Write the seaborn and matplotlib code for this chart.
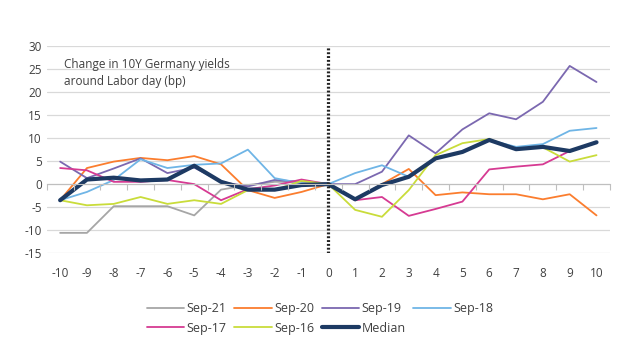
import numpy as np
import pandas as pd
import seaborn as sns
import matplotlib.pyplot as plt

days = list(range(-10, 11))
nan = np.nan

sep21 = [-10.6, -10.6, -4.8, -4.8, -4.8, -6.8, -1.2, -0.2, 0.5, 0.5, 0.0,
         nan, nan, nan, nan, nan, nan, nan, nan, nan, nan]
sep20 = [-3.5, 3.5, 4.9, 5.7, 5.2, 6.1, 4.3, -1.3, -3.0, -1.7, 0.0,
         -3.3, 0.0, 3.3, -2.4, -1.8, -2.2, -2.2, -3.3, -2.2, -6.8]
sep19 = [4.9, 1.3, 3.4, 5.6, 2.4, 3.6, 0.5, -0.5, 0.9, 0.5, 0.0,
         0.0, 2.7, 10.6, 6.7, 11.9, 15.4, 14.1, 17.9, 25.7, 22.2]
sep18 = [-3.5, -1.7, 0.9, 5.4, 3.5, 4.2, 4.5, 7.5, 1.3, 0.2, 0.0,
         2.4, 4.1, 1.6, 5.6, 7.0, 9.6, 8.1, 8.7, 11.6, 12.2]
sep17 = [3.5, 3.0, 0.5, 0.5, 0.9, 0.0, -3.5, -1.1, -0.3, 1.0, 0.0,
         -3.5, -2.8, -6.9, -5.4, -3.8, 3.2, 3.8, 4.3, 7.2, 9.1]
sep16 = [-3.5, -4.6, -4.3, -2.8, -4.3, -3.5, -4.3, -1.3, -1.3, 0.7, 0.0,
         -5.6, -7.1, -1.3, 6.3, 8.9, 9.8, 7.6, 8.0, 4.9, 6.3]
median = [-3.5, 1.0, 1.4, 0.8, 1.0, 4.0, 0.5, -1.2, -1.2, -0.2, 0.0,
          -3.3, -0.2, 1.6, 5.6, 7.0, 9.6, 7.6, 8.1, 7.2, 9.1]

series = {"Sep-21": sep21, "Sep-20": sep20, "Sep-19": sep19, "Sep-18": sep18,
          "Sep-17": sep17, "Sep-16": sep16, "Median": median}
colors = {"Sep-21": "#a6a6a6", "Sep-20": "#fb7d2e", "Sep-19": "#7b68b0",
          "Sep-18": "#6fb5e6", "Sep-17": "#d63a92", "Sep-16": "#c9dc3a",
          "Median": "#1d3a63"}

df = pd.DataFrame(series)
df["day"] = days

sns.set_style("white")
plt.rcParams['font.family'] = ['Open Sans', 'DejaVu Sans']
plt.rcParams['axes.unicode_minus'] = False

fig = plt.figure(figsize=(6.4, 3.55), dpi=100)
ax = fig.add_axes([0.073, 0.287, 0.88, 0.583])

for name in series:
    lw = 3.0 if name == "Median" else 1.3
    sns.lineplot(data=df, x="day", y=name, ax=ax, color=colors[name],
                 linewidth=lw, label=name, zorder=5 if name == "Median" else 3)

ax.set_xlim(-10.5, 10.5)
ax.set_ylim(-15, 30)
ax.set_xticks(days)
ax.set_yticks(range(-15, 31, 5))
ax.yaxis.grid(True, color="#d9d9d9", linewidth=0.9)
ax.set_axisbelow(True)
for s in ax.spines.values():
    s.set_visible(False)
ax.tick_params(axis="both", length=0, labelsize=8.5, colors="#404040")
ax.tick_params(axis="x", pad=10)
ax.set_xlabel("")
ax.set_ylabel("")

# zero axis line with tick marks between categories
ax2 = ax.twiny()
ax2.set_xlim(ax.get_xlim())
for s in ax2.spines.values():
    s.set_visible(False)
ax2.spines["bottom"].set_visible(True)
ax2.spines["bottom"].set_position(("data", 0))
ax2.spines["bottom"].set_color("#bfbfbf")
ax2.xaxis.set_ticks_position("bottom")
ax2.set_xticks(np.arange(-10.5, 10.6, 1.0))
ax2.tick_params(axis="x", length=4, color="#bfbfbf", labelbottom=False,
                labeltop=False, direction="out")

ax.axvline(0, color="#222222", linewidth=2.3, linestyle=(0, (0.6, 0.6)),
           zorder=6)

ax.text(-9.85, 27.4, "Change in 10Y Germany yields\naround Labor day (bp)",
        fontsize=8.5, color="#404040", va="top", ha="left", linespacing=1.35)

handles, labels = ax.get_legend_handles_labels()
if ax.legend_:
    ax.legend_.remove()
# matplotlib fills legend columns first; reorder so rows read left to right
order = [0, 4, 1, 5, 2, 6, 3]
fig.legend([handles[i] for i in order], [labels[i] for i in order],
           loc="upper center", bbox_to_anchor=(0.5, 0.18),
           ncol=4, frameon=False, fontsize=9, handlelength=3.0,
           handletextpad=0.2, columnspacing=0.6, labelcolor="#404040")

fig.savefig("out.png", dpi=100)
